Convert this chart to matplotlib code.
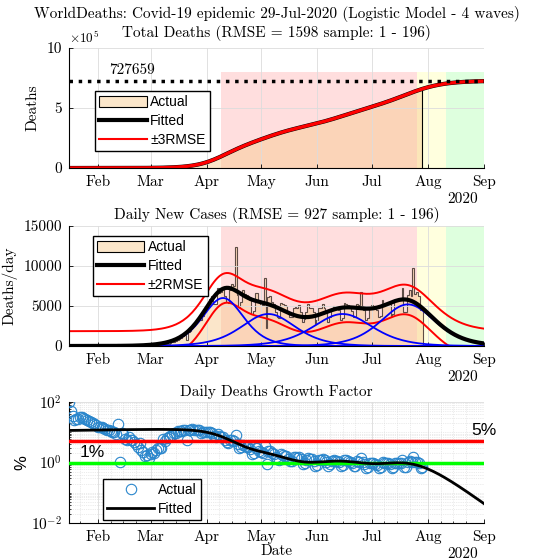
import numpy as np
import matplotlib
matplotlib.use('agg')
import matplotlib.pyplot as plt
import matplotlib.dates as mdates
from matplotlib.colors import to_rgba
from matplotlib.lines import Line2D
from matplotlib.patches import Patch
from matplotlib.ticker import FixedLocator, NullFormatter

# world daily deaths, 16-Jan-2020 .. 29-Jul-2020 (sample 1 - 196)
daily_deaths = [
    # Jan 16-31
    2, 2, 2, 2, 3, 4, 7, 10, 14, 18, 22, 26, 30, 36, 40, 45,
    # Feb
    47, 55, 62, 66, 72, 74, 85, 88, 96, 106, 100, 252, 14, 145, 142,
    106, 100, 136, 118, 120, 112, 102, 82, 118, 72, 62, 45, 50, 40,
    # Mar
    58, 68, 62, 80, 100, 105, 110, 230, 200, 280, 310, 360, 440, 550, 620,
    800, 900, 1050, 1250, 1400, 700, 1700, 1850, 2350, 2500, 2850, 3200,
    3500, 3300, 3800, 4300,
    # Apr
    4800, 5400, 5900, 6300, 5200, 5300, 7200, 6600, 6800, 7100, 6200, 5500,
    5400, 7000, 7700, 7500, 12400, 6400, 4900, 5500, 7000, 6500, 6400, 6300,
    5800, 4000, 4400, 6600, 6600, 5600,
    # May
    5300, 5100, 8500, 2200, 6100, 6300, 5500, 5200, 4300, 3600, 3500, 5400,
    5200, 5100, 5000, 4200, 3600, 3600, 4800, 4900, 4800, 5100, 4300, 3000,
    3400, 4200, 5200, 4800, 4700, 4300, 2800,
    # Jun
    3200, 4800, 4800, 5200, 4700, 4300, 3000, 3600, 4600, 5000, 4800, 4700,
    4500, 3300, 3500, 5400, 5300, 5100, 4800, 4400, 3600, 3600, 5200, 5100,
    6800, 5000, 4500, 3300, 3500, 4900,
    # Jul 1-29
    5100, 5000, 4800, 4500, 3600, 3700, 5700, 5400, 5300, 5300, 5200, 3800,
    4000, 5600, 5600, 5800, 5700, 7300, 4200, 4300, 6400, 7000, 6300, 9800,
    6500, 6800, 6200, 4500, 4600,
]
start_date = '2020-01-16'
end_date = '2020-09-01'

# logistic model - 4 waves (peak date, peak deaths/day, growth rate)
wave_peak_dates = ['2020-04-10', '2020-05-05', '2020-06-15', '2020-07-21']
wave_peaks = [6000, 4000, 4000, 5200]
wave_rates = [0.131, 0.10, 0.091, 0.10]

final_deaths = 727659
rmse_total = 1598
rmse_daily = 927
pct_lines = [5, 1]

phase_dates = ['2020-04-09', '2020-07-26', '2020-08-11', '2020-09-01']
phase_colors = ['#ff0000', '#ffff00', '#00ff00']

plt.rcParams['font.family'] = ['cmr10', 'DejaVu Serif']
plt.rcParams['mathtext.fontset'] = 'cm'
plt.rcParams['axes.unicode_minus'] = False
plt.rcParams['axes.formatter.use_mathtext'] = True
plt.rcParams['font.size'] = 11
sans = ['Liberation Sans', 'DejaVu Sans']

# ---- data
t0 = np.datetime64(start_date)
n_fit = int((np.datetime64(end_date) - t0).astype(int)) + 1
days_fit = np.arange(n_fit)
x_fit = mdates.date2num(t0 + days_fit.astype('timedelta64[D]'))

daily = np.array(daily_deaths, dtype=float)
days_act = np.arange(len(daily))
x_act = mdates.date2num(t0 + days_act.astype('timedelta64[D]'))
cum = np.cumsum(daily)
gf = daily / cum * 100

waves = []
fit_cum = np.zeros(n_fit)
for d, p, r in zip(wave_peak_dates, wave_peaks, wave_rates):
    c = (np.datetime64(d) - t0).astype(int)
    K = 4 * p / r
    e = np.exp(-r * (days_fit - c))
    waves.append(K * r * e / (1 + e) ** 2)
    fit_cum += K / (1 + e)
fit_daily = np.sum(waves, axis=0)
fit_gf = fit_daily / fit_cum * 100

x_ph = mdates.date2num(np.array(phase_dates, dtype='datetime64[D]'))
xlim = (x_fit[0], x_fit[-1])
fill_rgba = to_rgba('#f7c98a', 0.45)

fig = plt.figure(figsize=(5.33, 5.6), dpi=100)
L, W = 69 / 533, 415 / 533
ax1 = fig.add_axes([L, 1 - 168 / 560, W, 120 / 560])
ax2 = fig.add_axes([L, 1 - 346 / 560, W, 120 / 560])
ax3 = fig.add_axes([L, 1 - 523 / 560, W, 121 / 560])

fig.text(0.52, 1 - 14 / 560,
         'WorldDeaths: Covid-19 epidemic 29-Jul-2020 (Logistic Model - 4 waves)',
         ha='center', va='center', fontsize=11)

leg_kw = dict(loc='upper left', borderaxespad=0, fancybox=False, framealpha=1,
              edgecolor='black', handlelength=3.4, labelspacing=0.36,
              borderpad=0.3, handletextpad=0.25, handleheight=0.9,
              prop={'family': sans, 'size': 10})


def style(ax):
    ax.set_xlim(xlim)
    ax.xaxis.set_major_locator(mdates.MonthLocator())
    ax.xaxis.set_major_formatter(mdates.DateFormatter('%b'))
    for s in ['top', 'right']:
        ax.spines[s].set_visible(False)
    ax.spines['left'].set_linewidth(0.8)
    ax.spines['bottom'].set_linewidth(0.8)
    ax.tick_params(direction='in', length=3, width=0.6, labelsize=11, pad=5)
    ax.grid(True, which='major', color='#dcdcdc', lw=0.6)
    ax.text(0.985, -0.2, '2020', transform=ax.transAxes, ha='right', va='top',
            fontsize=11)


# ---- total deaths
style(ax1)
for i in range(3):
    ax1.axvspan(x_ph[i], x_ph[i + 1], ymax=0.8, color=phase_colors[i],
                alpha=0.13, lw=0)
ax1.fill_between(x_act, cum, facecolor=fill_rgba, lw=0)
ax1.vlines(x_act[-1], 0, cum[-1], color='black', lw=0.8)
ax1.plot(x_fit, fit_cum, color='black', lw=3)
ax1.plot(x_fit, fit_cum + 3 * rmse_total, color='red', lw=1.6)
ax1.plot(x_fit, fit_cum - 3 * rmse_total, color='red', lw=1.6)
ax1.axhline(final_deaths, color='black', ls=':', lw=2.5)
ax1.text(mdates.date2num(np.datetime64('2020-02-07')), final_deaths + 30000,
         str(final_deaths), fontsize=11, va='bottom')
ax1.set_ylim(0, 1e6)
ax1.set_yticks([0, 5e5, 1e6])
ax1.set_yticklabels(['0', '5', '10'])
ax1.text(0.0, 1.015, r'$\times10^5$', transform=ax1.transAxes, ha='left',
         va='bottom', fontsize=9.5)
ax1.set_ylabel('Deaths', fontsize=11, labelpad=5)
ax1.set_title('Total Deaths (RMSE = %d sample: 1 - %d)' % (rmse_total, len(daily)),
              fontsize=11, pad=8)
h1 = [Patch(facecolor=fill_rgba, edgecolor='black', lw=0.8),
      Line2D([], [], color='black', lw=3),
      Line2D([], [], color='red', lw=1.5)]
ax1.legend(h1, ['Actual', 'Fitted', '\u00b13RMSE'],
           bbox_to_anchor=(0.063, 0.642), **leg_kw)

# ---- daily new cases
style(ax2)
for i in range(3):
    ax2.axvspan(x_ph[i], x_ph[i + 1], color=phase_colors[i], alpha=0.13, lw=0)
edges = np.append(x_act - 0.5, x_act[-1] + 0.5)
ax2.stairs(daily, edges, fill=True, facecolor=fill_rgba, lw=0)
ax2.stairs(daily, edges, color='#5e4c46', lw=0.8)
ax2.plot(x_fit, fit_daily + 2 * rmse_daily, color='red', lw=1.4)
ax2.plot(x_fit, np.maximum(fit_daily - 2 * rmse_daily, 0), color='red', lw=1.4)
for w in waves:
    ax2.plot(x_fit, w, color='#0000ff', lw=1.3)
ax2.plot(x_fit, fit_daily, color='black', lw=3)
ax2.set_ylim(0, 15000)
ax2.set_yticks([0, 5000, 10000, 15000])
ax2.set_yticklabels(['0', '5000', '10000', '15000'])
ax2.set_ylabel('Deaths/day', fontsize=11, labelpad=4)
ax2.set_title('Daily New Cases (RMSE = %d sample: 1 - %d)' % (rmse_daily, len(daily)),
              fontsize=11, pad=5)
h2 = [Patch(facecolor=fill_rgba, edgecolor='black', lw=0.8),
      Line2D([], [], color='black', lw=3),
      Line2D([], [], color='red', lw=1.5)]
ax2.legend(h2, ['Actual', 'Fitted', '\u00b12RMSE'],
           bbox_to_anchor=(0.058, 0.917), **leg_kw)

# ---- growth factor
style(ax3)
ax3.set_yscale('log')
ax3.set_ylim(1e-2, 1e2)
ax3.yaxis.set_major_locator(FixedLocator([1e-2, 1e0, 1e2]))
ax3.set_yticklabels([r'$10^{-2}$', r'$10^{0}$', r'$10^{2}$'])
minor_y = [m * 10.0 ** k for k in range(-2, 2) for m in range(2, 10)] + [10.0, 0.1]
ax3.yaxis.set_minor_locator(FixedLocator(minor_y))
ax3.yaxis.set_minor_formatter(NullFormatter())
ax3.xaxis.set_minor_locator(mdates.DayLocator(bymonthday=[8, 15, 22]))
ax3.tick_params(which='minor', direction='in', length=1.5, width=0.5)
ax3.grid(True, which='minor', color='#d8d8d8', lw=0.5, ls=':')
ax3.plot(x_act, gf, 'o', mfc='none', mec='#2a86cc', ms=7.5, mew=0.8,
         label='Actual', zorder=3)
ax3.axhline(pct_lines[0], color='#ff0000', lw=2.5, zorder=4)
ax3.axhline(pct_lines[1], color='#00ff00', lw=2.5, zorder=4)
ax3.plot(x_fit, fit_gf, color='black', lw=2, label='Fitted', zorder=5)
ax3.text(1.0, 6.3, '5%', transform=ax3.get_yaxis_transform(), ha='center',
         va='bottom', fontsize=12.5, family=sans)
ax3.text(0.025, 1.2, '1%', transform=ax3.get_yaxis_transform(), ha='left',
         va='bottom', fontsize=12.5, family=sans)
ax3.set_ylabel('%', fontsize=12, labelpad=1, family=sans)
ax3.set_xlabel('Date', fontsize=11, labelpad=0)
ax3.set_title('Daily Deaths Growth Factor', fontsize=11, pad=4)
ax3.legend(bbox_to_anchor=(0.082, 0.364), **leg_kw)

fig.savefig('out.png', dpi=100)
